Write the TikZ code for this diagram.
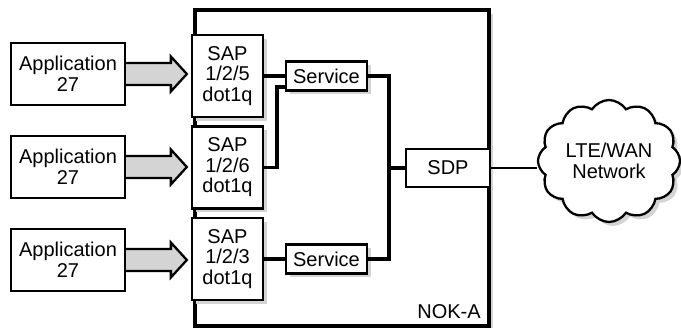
\documentclass[tikz,border=0pt]{standalone}
\usepackage{fontspec}
\setmainfont{Liberation Sans}
\usetikzlibrary{shapes.symbols,shadows,calc}
\tikzset{
  txt/.style={font=\fontsize{20}{20.5}\selectfont, align=center},
  box/.style={draw, line width=2.3pt, fill=white, inner sep=0pt, txt},
  shadowed/.style={drop shadow={shadow xshift=4pt, shadow yshift=-4pt, fill=black!17, opacity=1}},
  conn/.style={line width=3.4pt},
  barrow/.style={draw, line width=2.3pt, fill=black!17, line join=miter},
  appbox/.style={box, minimum width=114pt, minimum height=62pt},
  sapbox/.style={box, shadowed, minimum width=71pt, minimum height=82pt},
  svcbox/.style={box, shadowed, minimum width=81pt, minimum height=29pt}
}
\newcommand\mkblockarrow[2]{%
  \draw[barrow] ($(#1.east)+(0,-11)$) -- ($(#1.east -| #2.west)+(-20,-11)$) -- ++(0,-6.5)
    -- ($(#1.east -| #2.west)+(-4,0)$) -- ($(#1.east -| #2.west)+(-20,17.5)$) -- ++(0,-6.5)
    -- ($(#1.east)+(0,11)$);}
\begin{document}
\begin{tikzpicture}[x=1pt,y=-1pt]
\useasboundingbox (0,0) rectangle (681,328);
% NOK-A chassis
\node[draw, line width=3.2pt, fill=white, shadowed, minimum width=294pt, minimum height=316pt, inner sep=0pt] (noka) at (342,168) {};
\node[txt] (nokalbl) at (449,312) {NOK-A};
% SAPs
\node[sapbox] (sap1) at (227.5,76) {SAP\\1/2/5\\dot1q};
\node[sapbox] (sap2) at (227.5,167.5) {SAP\\1/2/6\\dot1q};
\node[sapbox] (sap3) at (227.5,259) {SAP\\1/2/3\\dot1q};
% services
\node[svcbox] (svc1) at (326.5,76) {Service};
\node[svcbox] (svc2) at (326.5,259) {Service};
% SDP
\node[box, minimum width=84pt, minimum height=38pt] (sdp) at (448,168) {SDP};
% connectors
\draw[conn] (sap1.east) -- (svc1.west);
\draw[conn] (sap3.east) -- (svc2.west);
\draw[conn] (sap2.east) -- ++(13,0) |- ($(svc1.west)+(0,11)$);
\draw[conn] (svc1.east) -- ++(21,0) |- (sdp.west);
\draw[conn] (svc2.east) -- ++(21,0) |- (sdp.west);
% cloud
\node[cloud, draw, line width=2.3pt, fill=white, shadowed, cloud puffs=12, cloud puff arc=115, aspect=1.2, minimum width=142pt, minimum height=122pt, inner sep=0pt, txt] (net) at (609,161) {LTE/WAN\\Network};
\draw[line width=2.3pt] (sdp.east) -- (sdp.east -| net.west);
% applications
\node[appbox] (app1) at (68,74) {Application\\27};
\node[appbox] (app2) at (68,167) {Application\\27};
\node[appbox] (app3) at (68,260) {Application\\27};
\mkblockarrow{app1}{sap1}
\mkblockarrow{app2}{sap2}
\mkblockarrow{app3}{sap3}
\end{tikzpicture}
\end{document}
